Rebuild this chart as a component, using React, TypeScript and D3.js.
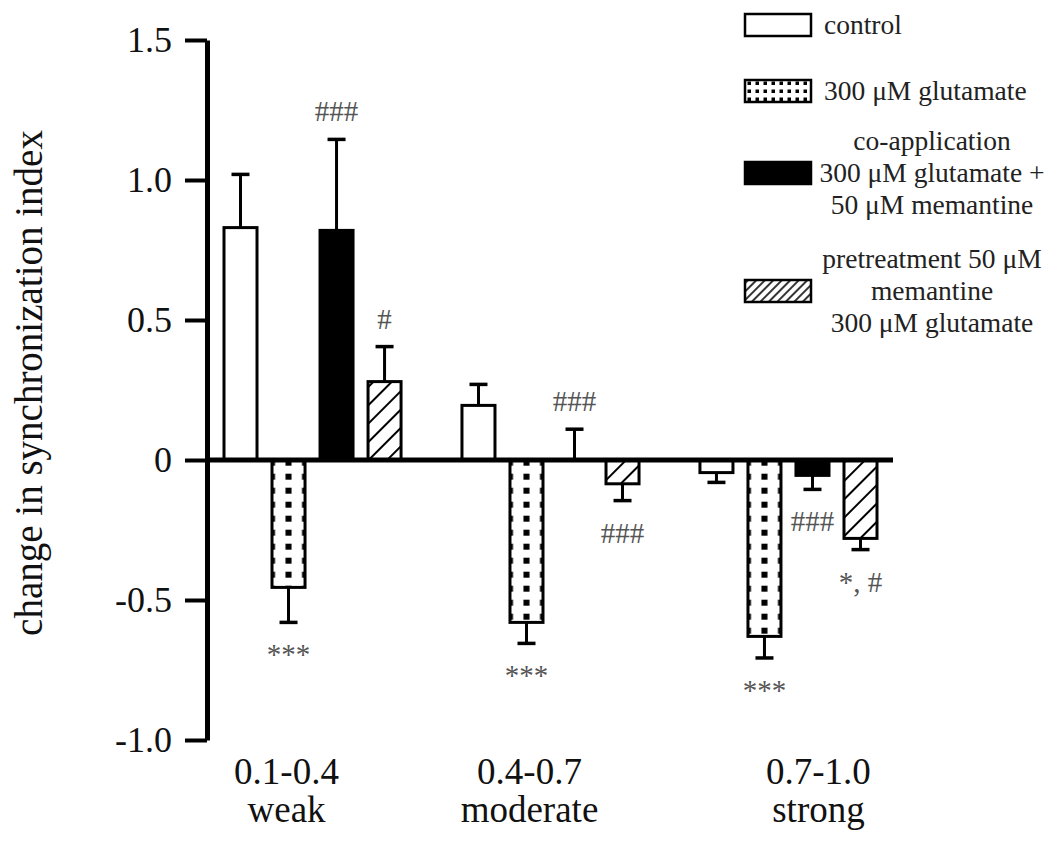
import { useEffect, useRef } from "react";
import * as d3 from "d3";

// category axis labels (two lines each)
const groupRanges = ["0.1-0.4", "0.4-0.7", "0.7-1.0"];
const groupNames = ["weak", "moderate", "strong"];

const seriesKeys = ["control", "glutamate", "coapp", "pretreat"];

// mean change in synchronization index, per group
const controlValues = [0.83, 0.195, -0.045];
const glutamateValues = [-0.455, -0.58, -0.63];
const coappValues = [0.82, 0.0, -0.055];
const pretreatValues = [0.28, -0.085, -0.28];

// error (one sided, away from zero)
const controlErrors = [0.19, 0.075, 0.035];
const glutamateErrors = [0.125, 0.075, 0.077];
const coappErrors = [0.325, 0.11, 0.05];
const pretreatErrors = [0.125, 0.06, 0.04];

// significance marks
const controlSig = ["", "", ""];
const glutamateSig = ["***", "***", "***"];
const coappSig = ["###", "###", "###"];
const pretreatSig = ["#", "###", "*, #"];

const yTicks = [-1.0, -0.5, 0, 0.5, 1.0, 1.5];

const legendLines = [
  ["control"],
  ["300 μM glutamate"],
  ["co-application", "300 μM glutamate +", "50 μM memantine"],
  ["pretreatment 50 μM", "memantine", "300 μM glutamate"],
];

const W = 1050;
const H = 842;
const FONT = "'Liberation Serif', 'Times New Roman', Times, serif";

const App = () => {
  const ref = useRef<SVGSVGElement>(null);

  useEffect(() => {
    if (!ref.current) return;
    const svg = d3.select(ref.current);
    svg.selectAll("*").remove();

    const values = [controlValues, glutamateValues, coappValues, pretreatValues];
    const errors = [controlErrors, glutamateErrors, coappErrors, pretreatErrors];
    const sigs = [controlSig, glutamateSig, coappSig, pretreatSig];

    const axisX = 207;
    const y = d3.scaleLinear().domain([-1, 1.5]).range([740, 40]);
    const x0 = d3
      .scaleBand<string>()
      .domain(groupNames)
      .range([224, 877])
      .paddingInner(0.256)
      .paddingOuter(0);
    const x1 = d3
      .scaleBand<string>()
      .domain(seriesKeys)
      .range([0, x0.bandwidth()])
      .paddingInner(0.3125)
      .paddingOuter(0);
    const bw = x1.bandwidth();
    // the category labels sit a little off the group centres in the original
    const labelShift = [-26, -21, 30];

    const defs = svg.append("defs");

    // dotted fill for glutamate bars, aligned per bar
    groupNames.forEach((g, gi) => {
      const bx = x0(g)! + x1("glutamate")!;
      const cw = bw / 2;
      const p = defs
        .append("pattern")
        .attr("id", `dots-${gi}`)
        .attr("patternUnits", "userSpaceOnUse")
        .attr("x", bx - cw / 2)
        .attr("y", y(0) + 9.7)
        .attr("width", cw)
        .attr("height", 14);
      p.append("rect").attr("width", cw).attr("height", 14).attr("fill", "#fff");
      p.append("rect")
        .attr("x", cw / 2 - 3)
        .attr("y", 4)
        .attr("width", 6)
        .attr("height", 6)
        .attr("fill", "#000");
    });

    const hatch = defs
      .append("pattern")
      .attr("id", "hatch")
      .attr("patternUnits", "userSpaceOnUse")
      .attr("width", 13)
      .attr("height", 13)
      .attr("patternTransform", "rotate(45)");
    hatch.append("rect").attr("width", 13).attr("height", 13).attr("fill", "#fff");
    hatch
      .append("line")
      .attr("x1", 1)
      .attr("x2", 1)
      .attr("y1", 0)
      .attr("y2", 13)
      .attr("stroke", "#000")
      .attr("stroke-width", 2);

    const legDots = defs
      .append("pattern")
      .attr("id", "leg-dots")
      .attr("patternUnits", "userSpaceOnUse")
      .attr("x", 745)
      .attr("y", 79)
      .attr("width", 8)
      .attr("height", 8);
    legDots.append("rect").attr("width", 8).attr("height", 8).attr("fill", "#fff");
    legDots
      .append("rect")
      .attr("x", 2.5)
      .attr("y", 2.5)
      .attr("width", 3.5)
      .attr("height", 3.5)
      .attr("fill", "#000");

    const legHatch = defs
      .append("pattern")
      .attr("id", "leg-hatch")
      .attr("patternUnits", "userSpaceOnUse")
      .attr("width", 6)
      .attr("height", 6)
      .attr("patternTransform", "rotate(45)");
    legHatch.append("rect").attr("width", 6).attr("height", 6).attr("fill", "#fff");
    legHatch
      .append("line")
      .attr("x1", 1)
      .attr("x2", 1)
      .attr("y1", 0)
      .attr("y2", 6)
      .attr("stroke", "#000")
      .attr("stroke-width", 1.6);

    const fillFor = (s: string, gi: number) =>
      s === "control" ? "#fff" : s === "glutamate" ? `url(#dots-${gi})` : s === "coapp" ? "#000" : "url(#hatch)";

    // flatten into bar records
    const bars = groupNames.flatMap((g, gi) =>
      seriesKeys.map((s, si) => ({
        g,
        gi,
        s,
        v: values[si][gi],
        e: errors[si][gi],
        sig: sigs[si][gi],
      }))
    );

    const plot = svg.append("g");

    plot
      .selectAll("rect.bar")
      .data(bars.filter((d) => d.v !== 0))
      .enter()
      .append("rect")
      .attr("class", "bar")
      .attr("x", (d) => x0(d.g)! + x1(d.s)!)
      .attr("width", bw)
      .attr("y", (d) => y(Math.max(d.v, 0)))
      .attr("height", (d) => Math.abs(y(d.v) - y(0)))
      .attr("fill", (d) => fillFor(d.s, d.gi))
      .attr("stroke", "#000")
      .attr("stroke-width", 3);

    const dir = (v: number) => (v < 0 ? -1 : 1);
    const errEnd = (d: { v: number; e: number }) => y(d.v + dir(d.v) * d.e);

    const err = plot.selectAll("g.err").data(bars).enter().append("g").attr("class", "err");
    err
      .append("line")
      .attr("x1", (d) => x0(d.g)! + x1(d.s)! + bw / 2)
      .attr("x2", (d) => x0(d.g)! + x1(d.s)! + bw / 2)
      .attr("y1", (d) => y(d.v))
      .attr("y2", (d) => errEnd(d))
      .attr("stroke", "#000")
      .attr("stroke-width", 3);
    err
      .append("line")
      .attr("x1", (d) => x0(d.g)! + x1(d.s)! + bw / 2 - 9)
      .attr("x2", (d) => x0(d.g)! + x1(d.s)! + bw / 2 + 9)
      .attr("y1", (d) => errEnd(d))
      .attr("y2", (d) => errEnd(d))
      .attr("stroke", "#000")
      .attr("stroke-width", 3.5);

    // significance marks
    plot
      .selectAll("text.sig")
      .data(bars.filter((d) => d.sig))
      .enter()
      .append("text")
      .attr("class", "sig")
      .attr("x", (d) => x0(d.g)! + x1(d.s)! + bw / 2)
      .attr("y", (d) => (d.v < 0 ? errEnd(d) + 42 : errEnd(d) - 18))
      .attr("text-anchor", "middle")
      .style("font-family", FONT)
      .style("font-size", "29px")
      .style("fill", "#555")
      .text((d) => d.sig);

    // zero line
    svg
      .append("line")
      .attr("x1", axisX)
      .attr("x2", 893)
      .attr("y1", y(0))
      .attr("y2", y(0))
      .attr("stroke", "#000")
      .attr("stroke-width", 5);

    // y axis
    const yAxis = svg
      .append("g")
      .attr("transform", `translate(${axisX},0)`)
      .call(
        d3
          .axisLeft(y)
          .tickValues(yTicks)
          .tickSizeInner(22)
          .tickSizeOuter(0)
          .tickPadding(13)
          .tickFormat((d) => (+d === 0 ? "0" : (+d).toFixed(1)))
      );
    yAxis.select(".domain").attr("stroke", "#000").attr("stroke-width", 5);
    yAxis.selectAll(".tick line").attr("stroke", "#000").attr("stroke-width", 4);
    yAxis
      .selectAll(".tick text")
      .style("font-family", FONT)
      .style("font-size", "36px")
      .style("fill", "#111");

    // y title
    svg
      .append("text")
      .attr("transform", `translate(42,383) rotate(-90)`)
      .attr("text-anchor", "middle")
      .style("font-family", FONT)
      .style("font-size", "39px")
      .style("fill", "#111")
      .text("change in synchronization index");

    // category labels
    const cx = (g: string, i: number) => x0(g)! + x0.bandwidth() / 2 + labelShift[i];
    const cat = svg.selectAll("g.cat").data(groupNames).enter().append("g").attr("class", "cat");
    cat
      .append("text")
      .attr("x", (g, i) => cx(g, i))
      .attr("y", 784)
      .attr("text-anchor", "middle")
      .style("font-family", FONT)
      .style("font-size", "37px")
      .style("fill", "#111")
      .text((_, i) => groupRanges[i]);
    cat
      .append("text")
      .attr("x", (g, i) => cx(g, i))
      .attr("y", 822)
      .attr("text-anchor", "middle")
      .style("font-family", FONT)
      .style("font-size", "37px")
      .style("fill", "#111")
      .text((g) => g);

    // legend
    const legendRowY = [25, 91, 173, 291];
    const legendFill = ["#fff", "url(#leg-dots)", "#000", "url(#leg-hatch)"];
    const leg = svg
      .selectAll("g.leg")
      .data(legendLines)
      .enter()
      .append("g")
      .attr("class", "leg");
    leg
      .append("rect")
      .attr("x", 745)
      .attr("y", (_, i) => legendRowY[i] - 11)
      .attr("width", 66)
      .attr("height", 22)
      .attr("fill", (_, i) => legendFill[i])
      .attr("stroke", "#000")
      .attr("stroke-width", 2.5);
    leg.each(function (lines, i) {
      const multi = lines.length > 1;
      d3.select(this)
        .selectAll("text")
        .data(lines)
        .enter()
        .append("text")
        .attr("x", multi ? 932 : 824)
        .attr("y", (_, li) => legendRowY[i] + (li - (lines.length - 1) / 2) * 32 + 9)
        .attr("text-anchor", multi ? "middle" : "start")
        .style("font-family", FONT)
        .style("font-size", "27.5px")
        .style("fill", "#222")
        .text((t) => t);
    });
  }, []);

  return (
    <svg
      ref={ref}
      width={W}
      height={H}
      style={{ display: "block", position: "absolute", left: 0, top: 0, background: "#fff" }}
    />
  );
};

export default App;
